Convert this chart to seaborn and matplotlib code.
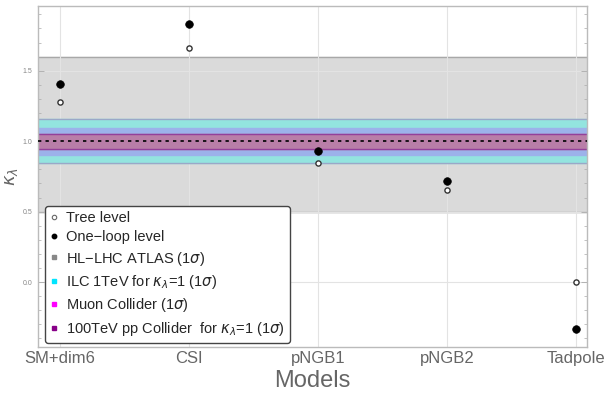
import matplotlib
matplotlib.use("Agg")
import matplotlib.pyplot as plt
import numpy as np
import pandas as pd
import seaborn as sns
from matplotlib.lines import Line2D
from matplotlib.ticker import MultipleLocator

# values
models = ["SM+dim6", "CSI", "pNGB1", "pNGB2", "Tadpole"]
tree_level = [1.28, 1.665, 0.845, 0.655, 0.0]
one_loop = [1.405, 1.835, 0.93, 0.72, -0.335]

hl_lhc = (0.5, 1.6)
ilc = (0.845, 1.155)
muon = (0.9, 1.095)
pp100 = (0.945, 1.05)

df = pd.DataFrame({
    "model": models * 2,
    "kappa": tree_level + one_loop,
    "order": ["Tree level"] * 5 + ["One-loop level"] * 5,
})

sns.set_theme(style="white")
plt.rcParams["font.family"] = ["Liberation Sans", "DejaVu Sans"]

fig, ax = plt.subplots(figsize=(6.06, 3.96), dpi=100)
fig.subplots_adjust(left=0.063, right=0.969, top=0.985, bottom=0.124)

grey_txt = "#666666"

# bands
ax.axhspan(*hl_lhc, color="#dadada", zorder=0)
for y in hl_lhc:
    ax.axhline(y, color="#a8a8a8", lw=1.0, zorder=0.5)
ax.axhspan(*ilc, color="#93e4df", zorder=1)
for y in ilc:
    ax.axhline(y, color="#9aa8c8", lw=1.0, zorder=1.2)
ax.axhspan(*muon, color="#9cb2ea", zorder=1.5)
ax.axhspan(*pp100, color="#b97ea8", zorder=2)
for y in pp100:
    ax.axhline(y, color="#93409a", lw=1.0, zorder=2.2)
ax.axhline(1.0, color="black", lw=1.2, ls=(0, (2, 2.5)), zorder=3)

sns.scatterplot(data=df[df["order"] == "Tree level"], x="model", y="kappa",
                marker="o", s=14, facecolor="white", edgecolor="#333333",
                linewidth=1.0, ax=ax, zorder=5, legend=False)
sns.scatterplot(data=df[df["order"] == "One-loop level"], x="model", y="kappa",
                marker="o", s=30, color="black", edgecolor="black",
                linewidth=0.5, ax=ax, zorder=5, legend=False)

ax.set_xlim(-0.17, 4.085)
ax.set_ylim(-0.46, 1.96)
ax.yaxis.set_minor_locator(MultipleLocator(0.1))
ax.set_yticks([0.0, 0.5, 1.0, 1.5])
ax.set_yticklabels(["0.0", "0.5", "1.0", "1.5"])
ax.tick_params(axis="y", which="major", labelsize=5, labelcolor="#888888",
               length=4, width=0.6, color="#aaaaaa", direction="in",
               left=True, right=True, pad=4)
ax.tick_params(axis="y", which="minor", length=2, width=0.5, color="#aaaaaa",
               direction="in", left=True, right=True)
ax.tick_params(axis="x", labelsize=12, labelcolor=grey_txt, length=0, pad=3)

ax.grid(True, color="#e3e3e3", lw=0.8, zorder=-1)
ax.set_axisbelow(True)
for sp in ax.spines.values():
    sp.set_color("#bbbbbb")
    sp.set_linewidth(1.0)

ax.set_xlabel("Models", fontsize=17, color=grey_txt, labelpad=3)
ax.set_ylabel(r"$\kappa_\lambda$", fontsize=13, color=grey_txt, labelpad=2)

handles = [
    Line2D([], [], ls="", marker="o", ms=3.2, mfc="white", mec="#666666", mew=0.8),
    Line2D([], [], ls="", marker="o", ms=3.2, mfc="black", mec="black"),
    Line2D([], [], ls="", marker="s", ms=2.6, mfc="#888888", mec="#888888"),
    Line2D([], [], ls="", marker="s", ms=2.6, mfc="#00e5ff", mec="#00e5ff"),
    Line2D([], [], ls="", marker="s", ms=2.6, mfc="#ff00ff", mec="#ff00ff"),
    Line2D([], [], ls="", marker="s", ms=2.6, mfc="#880088", mec="#880088"),
]
labels = [
    "Tree level",
    "One\u2212loop level",
    "HL\u2212LHC ATLAS (1$\\sigma$)",
    r"ILC 1TeV for $\kappa_\lambda$=1 (1$\sigma$)",
    r"Muon Collider (1$\sigma$)",
    r"100TeV pp Collider  for $\kappa_\lambda$=1 (1$\sigma$)",
]
leg = ax.legend(handles, labels, loc="lower left", bbox_to_anchor=(0.012, 0.012),
                fontsize=10.5, frameon=True, fancybox=True, handlelength=0.6,
                handletextpad=0.5, labelspacing=0.37, borderpad=0.35,
                borderaxespad=0)
leg.get_frame().set_edgecolor("#444444")
leg.get_frame().set_linewidth(1.0)
leg.get_frame().set_facecolor("white")
leg.get_frame().set_alpha(1)
leg.set_zorder(10)

fig.savefig("out.png", dpi=100)
